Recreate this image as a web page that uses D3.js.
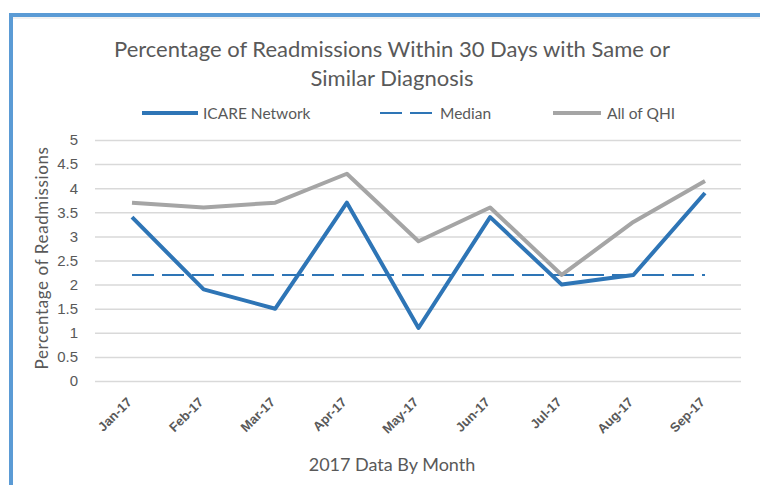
<!DOCTYPE html>
<html><head><meta charset="utf-8">
<script src="https://cdn.jsdelivr.net/npm/d3@7"></script>
<style>body{margin:0;background:#fff;} svg{display:block;font-family:Lato,"Open Sans",sans-serif;}</style>
</head><body>
<svg id="c" width="760" height="485"></svg>
<script>
const months = ["Jan-17","Feb-17","Mar-17","Apr-17","May-17","Jun-17","Jul-17","Aug-17","Sep-17"];
const icare = [3.4,1.9,1.5,3.7,1.1,3.4,2.0,2.2,3.9];
const median = [2.2,2.2,2.2,2.2,2.2,2.2,2.2,2.2,2.2];
const qhi = [3.7,3.6,3.7,4.3,2.9,3.6,2.2,3.3,4.15];
const yTicks = [0,0.5,1,1.5,2,2.5,3,3.5,4,4.5,5];

const svg = d3.select("#c");
const txt = "#595959";
// frame
svg.append("rect").attr("x",11).attr("y",15).attr("width",780).attr("height",500)
  .attr("fill","none").attr("stroke","#5b9bd5").attr("stroke-width",4);
svg.append("line").attr("x1",13).attr("x2",760).attr("y1",18).attr("y2",18).attr("stroke","#e4e4e4").attr("stroke-width",1);

const x = d3.scalePoint().domain(months).range([132,705]);
const y = d3.scaleLinear().domain([0,5]).range([381,140]);

// gridlines
const yAxis = d3.axisLeft(y).tickValues(yTicks).tickSize(-646).tickFormat(d=>d3.format("")(d)).tickPadding(18);
const gy = svg.append("g").attr("transform","translate(95,0)").call(yAxis);
gy.select(".domain").remove();
gy.selectAll(".tick line").attr("stroke","#d9d9d9").attr("stroke-width",1.5);
gy.selectAll(".tick text").attr("fill",txt).attr("font-size",15).attr("x",-17);

// x axis labels
const xAxis = d3.axisBottom(x).tickSize(0).tickPadding(0);
const gx = svg.append("g").attr("transform","translate(0,381)").call(xAxis);
gx.select(".domain").remove();
gx.selectAll(".tick text")
  .attr("fill",txt).attr("font-size",13).attr("font-weight","bold")
  .attr("text-anchor","end").attr("dy",0).attr("y",0)
  .attr("transform","translate(0,22) rotate(-45)");

const line = d3.line().x((d,i)=>x(months[i])).y(d=>y(d));
svg.append("path").datum(median).attr("d",line).attr("fill","none")
  .attr("stroke","#2e75b6").attr("stroke-width",2).attr("stroke-dasharray","22,8");
svg.append("path").datum(qhi).attr("d",line).attr("fill","none")
  .attr("stroke","#a5a5a5").attr("stroke-width",4).attr("stroke-linejoin","round");
svg.append("path").datum(icare).attr("d",line).attr("fill","none")
  .attr("stroke","#2e75b6").attr("stroke-width",4).attr("stroke-linejoin","round");

// title
svg.append("text").attr("x",392).attr("y",57).attr("text-anchor","middle").attr("fill",txt).attr("font-size",22)
  .text("Percentage of Readmissions Within 30 Days with Same or");
svg.append("text").attr("x",392).attr("y",86).attr("text-anchor","middle").attr("fill",txt).attr("font-size",22)
  .text("Similar Diagnosis");

// legend
const leg = [
  {name:"ICARE Network", color:"#2e75b6", w:4, dash:null, x1:142, x2:198, tx:203},
  {name:"Median", color:"#2e75b6", w:2, dash:"22,8", x1:380, x2:434, tx:440},
  {name:"All of QHI", color:"#a5a5a5", w:4, dash:null, x1:553, x2:601, tx:607}
];
leg.forEach(l=>{
  svg.append("line").attr("x1",l.x1).attr("x2",l.x2).attr("y1",113).attr("y2",113)
    .attr("stroke",l.color).attr("stroke-width",l.w).attr("stroke-dasharray",l.dash);
  svg.append("text").attr("x",l.tx).attr("y",118.5).attr("fill",txt).attr("font-size",15.5).text(l.name);
});

// axis titles
svg.append("text").attr("transform","translate(48,258) rotate(-90)").attr("text-anchor","middle")
  .attr("fill",txt).attr("font-size",17).attr("letter-spacing",0.6).text("Percentage of Readmissions");
svg.append("text").attr("x",392).attr("y",471).attr("text-anchor","middle").attr("fill",txt).attr("font-size",18)
  .text("2017 Data By Month");
</script>
</body></html>
